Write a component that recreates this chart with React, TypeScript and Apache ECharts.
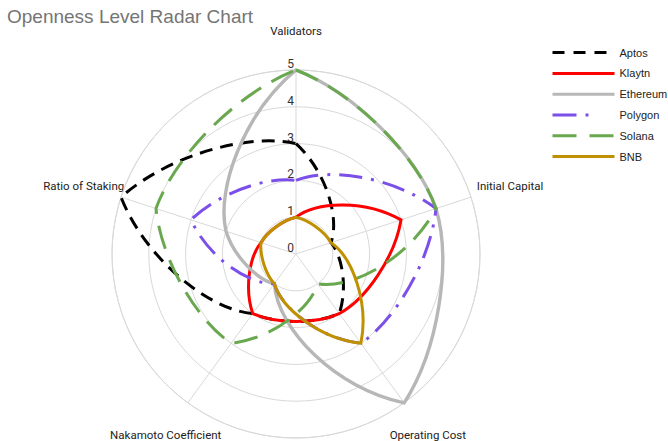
import React, { useEffect, useRef } from "react";
import * as echarts from "echarts";

const indicators = ["Validators", "Initial Capital", "Operating Cost", "Nakamoto Coefficient", "Ratio of Staking"];
const radiusTicks = [0, 1, 2, 3, 4, 5];

const seriesNames = ["Aptos", "Klaytn", "Ethereum", "Polygon", "Solana", "BNB"];
const aptos = [3, 1, 2, 2, 5];
const klaytn = [1, 3, 2, 2, 1];
const ethereum = [5, 4, 5, 1, 2];
const polygon = [2, 4, 3, 1, 3];
const solana = [5, 4, 1, 3, 4];
const bnb = [1, 1, 3, 1, 1];
const seriesValues = [aptos, klaytn, ethereum, polygon, solana, bnb];

const colors = ["#000000", "#ff0000", "#b7b7b7", "#7b4fea", "#6aa84f", "#bf9000"];
const chartDash: (number[] | null)[] = [[13, 8], null, null, [23, 9, 3, 9], [24, 12], null];
const legendDash: (number[] | "solid")[] = [[12, 9], "solid", "solid", [24, 9, 3, 26], [24, 13], "solid"];

// label offsets (padding) per indicator, [top, right, bottom, left]
const labelPads = [
  [0, 0, 90, 0],
  [0, 0, 58, 60],
  [72, 0, 0, 19],
  [72, 0, 0, 0],
  [0, 51, 58, 0],
];

const K = 0.85;

function makeRender(color: string, dash: number[] | null, width: number) {
  return (params: any, api: any) => {
    const n = indicators.length;
    const step = 360 / n;
    const v: number[] = [];
    for (let i = 0; i < n; i++) v.push(api.value(i) as number);
    const pt = (r: number, a: number) => api.coord([r, a]);
    const p0 = pt(v[0], 0);
    let d = `M${p0[0]} ${p0[1]}`;
    for (let i = 0; i < n; i++) {
      const j = (i + 1) % n;
      const a0 = i * step;
      const a1 = a0 + step;
      const r0 = v[i];
      const r1 = v[j];
      const A = pt(r0, a0);
      const B = pt(r1, a1);
      const s1 = pt(r0 + (r1 - r0) / 3, a0 + step / 3);
      const s2 = pt(r0 + (2 * (r1 - r0)) / 3, a0 + (2 * step) / 3);
      const c1 = [A[0] + K * (s1[0] - A[0]), A[1] + K * (s1[1] - A[1])];
      const c2 = [B[0] + K * (s2[0] - B[0]), B[1] + K * (s2[1] - B[1])];
      d += ` C${c1[0]} ${c1[1]} ${c2[0]} ${c2[1]} ${B[0]} ${B[1]}`;
    }
    d += " Z";
    return {
      type: "path",
      shape: { pathData: d },
      style: {
        fill: "none",
        stroke: color,
        lineWidth: width,
        lineDash: dash || undefined,
        lineCap: "butt",
        lineJoin: "miter",
      },
    };
  };
}

export default function App() {
  const ref = useRef<HTMLDivElement>(null);
  useEffect(() => {
    if (!ref.current) return;
    const chart = echarts.init(ref.current, undefined, { renderer: "svg" });
    const rich: any = {};
    labelPads.forEach((p, i) => {
      rich["n" + i] = {
        padding: p,
        fontSize: 11.5,
        color: "#222",
        fontFamily: "Roboto",
      };
    });
    const legendSeries = seriesNames.map((name, i) => ({
      type: "line",
      name,
      coordinateSystem: "polar",
      data: [],
      symbol: "none",
      lineStyle: { color: colors[i], width: 3, type: legendDash[i] },
      itemStyle: { color: colors[i] },
    }));
    const curveSeries = seriesNames.map((name, i) => ({
      type: "custom",
      name,
      coordinateSystem: "polar",
      dimensions: ["v0", "v1", "v2", "v3", "v4"],
      encode: { radius: 0, angle: 1 },
      data: [seriesValues[i]],
      renderItem: makeRender(colors[i], chartDash[i], name === "Ethereum" ? 3.4 : 3),
      itemStyle: { color: colors[i] },
      z: 3,
    }));
    chart.setOption({
      animation: false,
      title: {
        text: "Openness Level Radar Chart",
        left: 7,
        top: 7,
        padding: 0,
        textStyle: {
          color: "#757575",
          fontSize: 19,
          fontWeight: "normal",
          fontFamily: "Liberation Sans, Arial, sans-serif",
        },
      },
      legend: {
        orient: "vertical",
        left: 551,
        top: 47,
        padding: 0,
        itemWidth: 62,
        itemHeight: 14,
        itemGap: 9.6,
        data: seriesNames,
        textStyle: { fontSize: 11, color: "#222", fontFamily: "Liberation Sans, Arial, sans-serif" },
        lineStyle: { width: 3 },
        itemStyle: { opacity: 0 },
      },
      polar: { center: [296, 254], radius: 184 },
      angleAxis: {
        type: "value",
        min: 0,
        max: 360,
        interval: 72,
        startAngle: 90,
        clockwise: true,
        axisLine: { show: true, lineStyle: { color: "#d9d9d9", width: 1 } },
        axisTick: { show: false },
        splitLine: { show: true, lineStyle: { color: "#d9d9d9", width: 1 } },
        axisLabel: {
          margin: -57,
          formatter: (val: number) => {
            const idx = Math.round(val / 72);
            if (idx >= indicators.length) return "";
            return `{n${idx}|${indicators[idx]}}`;
          },
          rich,
        },
      },
      radiusAxis: {
        type: "value",
        min: radiusTicks[0],
        max: radiusTicks[radiusTicks.length - 1],
        interval: 1,
        axisLine: { show: false },
        axisTick: { show: false },
        splitLine: { show: true, lineStyle: { color: "#d9d9d9", width: 1 } },
        axisLabel: {
          show: true,
          margin: 2,
          verticalAlign: "bottom",
          color: "#333",
          fontSize: 12,
          fontFamily: "Roboto",
        },
      },
      series: [...legendSeries, ...curveSeries],
    });
    return () => chart.dispose();
  }, []);
  return (
    <div
      ref={ref}
      style={{ position: "fixed", left: 0, top: 0, width: 668, height: 441, background: "#fff" }}
    />
  );
}
